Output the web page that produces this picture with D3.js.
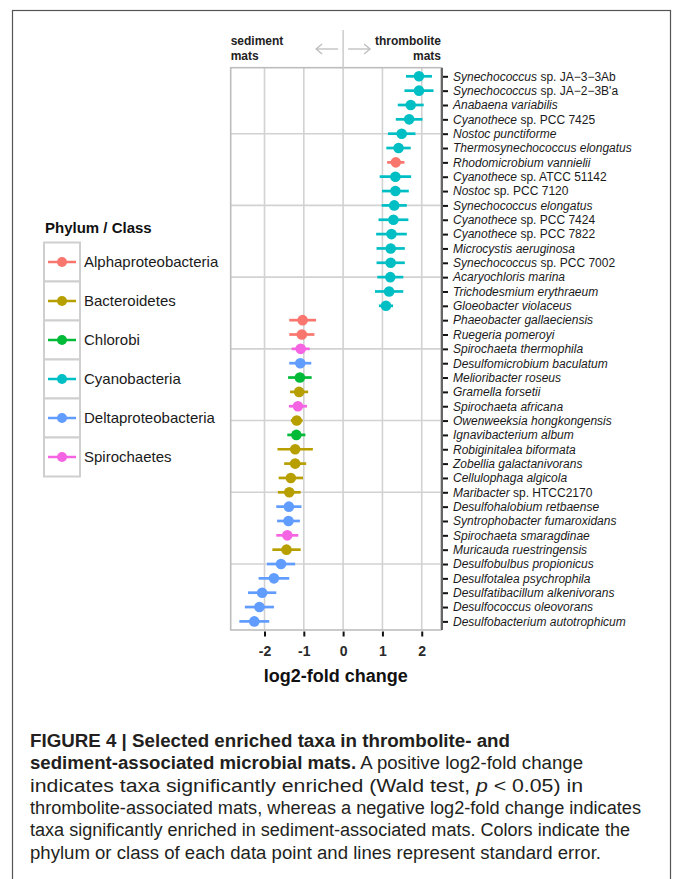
<!DOCTYPE html>
<html>
<head>
<meta charset="utf-8">
<script src="https://cdn.jsdelivr.net/npm/d3@7"></script>
<style>
  html, body { margin: 0; padding: 0; background: #fff; }
  svg { display: block; font-family: "Liberation Sans", Arial, Helvetica, sans-serif; }
</style>
</head>
<body>
<svg id="fig" width="673" height="879"></svg>
<script>
// Taxa from top to bottom: genus (italic) and strain suffix (upright)
const genus = [
  "Synechococcus", "Synechococcus", "Anabaena variabilis", "Cyanothece", "Nostoc punctiforme",
  "Thermosynechococcus elongatus", "Rhodomicrobium vannielii", "Cyanothece", "Nostoc", "Synechococcus elongatus",
  "Cyanothece", "Cyanothece", "Microcystis aeruginosa", "Synechococcus", "Acaryochloris marina",
  "Trichodesmium erythraeum", "Gloeobacter violaceus", "Phaeobacter gallaeciensis", "Ruegeria pomeroyi", "Spirochaeta thermophila",
  "Desulfomicrobium baculatum", "Melioribacter roseus", "Gramella forsetii", "Spirochaeta africana", "Owenweeksia hongkongensis",
  "Ignavibacterium album", "Robiginitalea biformata", "Zobellia galactanivorans", "Cellulophaga algicola", "Maribacter",
  "Desulfohalobium retbaense", "Syntrophobacter fumaroxidans", "Spirochaeta smaragdinae", "Muricauda ruestringensis", "Desulfobulbus propionicus",
  "Desulfotalea psychrophila", "Desulfatibacillum alkenivorans", "Desulfococcus oleovorans", "Desulfobacterium autotrophicum"
];
const strain = [
  " sp. JA\u22123\u22123Ab", " sp. JA\u22122\u22123B'a", "", " sp. PCC 7425", "",
  "", "", " sp. ATCC 51142", " sp. PCC 7120", "",
  " sp. PCC 7424", " sp. PCC 7822", "", " sp. PCC 7002", "",
  "", "", "", "", "",
  "", "", "", "", "",
  "", "", "", "", " sp. HTCC2170",
  "", "", "", "", "",
  "", "", "", ""
];
const phylum = [
  "Cyanobacteria", "Cyanobacteria", "Cyanobacteria", "Cyanobacteria", "Cyanobacteria",
  "Cyanobacteria", "Alphaproteobacteria", "Cyanobacteria", "Cyanobacteria", "Cyanobacteria",
  "Cyanobacteria", "Cyanobacteria", "Cyanobacteria", "Cyanobacteria", "Cyanobacteria",
  "Cyanobacteria", "Cyanobacteria", "Alphaproteobacteria", "Alphaproteobacteria", "Spirochaetes",
  "Deltaproteobacteria", "Chlorobi", "Bacteroidetes", "Spirochaetes", "Bacteroidetes",
  "Chlorobi", "Bacteroidetes", "Bacteroidetes", "Bacteroidetes", "Bacteroidetes",
  "Deltaproteobacteria", "Deltaproteobacteria", "Spirochaetes", "Bacteroidetes", "Deltaproteobacteria",
  "Deltaproteobacteria", "Deltaproteobacteria", "Deltaproteobacteria", "Deltaproteobacteria"
];
// log2-fold change and its standard error
const lfc = [
  1.93, 1.93, 1.72, 1.68, 1.49,
  1.41, 1.34, 1.33, 1.33, 1.30,
  1.28, 1.23, 1.21, 1.21, 1.20,
  1.17, 1.09, -1.03, -1.05, -1.08,
  -1.09, -1.10, -1.12, -1.15, -1.18,
  -1.19, -1.22, -1.22, -1.33, -1.37,
  -1.38, -1.39, -1.42, -1.44, -1.58,
  -1.76, -2.06, -2.13, -2.26
];
const se = [
  0.33, 0.37, 0.33, 0.34, 0.35,
  0.31, 0.22, 0.40, 0.34, 0.32,
  0.38, 0.39, 0.36, 0.36, 0.33,
  0.36, 0.18, 0.34, 0.32, 0.23,
  0.28, 0.30, 0.23, 0.23, 0.15,
  0.23, 0.45, 0.28, 0.31, 0.29,
  0.32, 0.29, 0.28, 0.36, 0.36,
  0.39, 0.36, 0.37, 0.38
];
const groups = ["Alphaproteobacteria", "Bacteroidetes", "Chlorobi", "Cyanobacteria", "Deltaproteobacteria", "Spirochaetes"];
const groupColors = ["#F8766D", "#B79F00", "#00BA38", "#00BFC4", "#619CFF", "#F564E3"];
const xTicks = [-2, -1, 0, 1, 2];
const yGrid = [5, 10, 15, 20, 25, 30, 35];

const rows = genus.map((g, i) => ({
  genus: g, strain: strain[i], phylum: phylum[i], lfc: lfc[i], se: se[i],
  pos: genus.length - i
}));

const svg = d3.select("#fig");
const panel = { left: 230.7, right: 441, top: 67.7, bottom: 630 };

const x = d3.scaleLinear().domain([-2.86, 2.49]).range([panel.left, panel.right]);
const y = d3.scaleLinear().domain([0.4, genus.length + 0.6]).range([panel.bottom, panel.top]);
const color = d3.scaleOrdinal().domain(groups).range(groupColors);

// outer figure frame
svg.append("rect")
  .attr("x", 12.5).attr("y", 10.5).attr("width", 658).attr("height", 900)
  .attr("fill", "none").attr("stroke", "#555").attr("stroke-width", 1.2);

// panel background and grid
svg.append("rect")
  .attr("x", panel.left).attr("y", panel.top)
  .attr("width", panel.right - panel.left).attr("height", panel.bottom - panel.top)
  .attr("fill", "#fff");

svg.append("g").selectAll("line").data(xTicks).join("line")
  .attr("x1", d => x(d)).attr("x2", d => x(d))
  .attr("y1", panel.top).attr("y2", panel.bottom)
  .attr("stroke", "#d2d2d2").attr("stroke-width", 1.6);

svg.append("g").selectAll("line").data(yGrid).join("line")
  .attr("x1", panel.left).attr("x2", panel.right)
  .attr("y1", d => y(d)).attr("y2", d => y(d))
  .attr("stroke", "#d2d2d2").attr("stroke-width", 1.6);

svg.append("rect")
  .attr("x", panel.left).attr("y", panel.top)
  .attr("width", panel.right - panel.left).attr("height", panel.bottom - panel.top)
  .attr("fill", "none").attr("stroke", "#bdbdbd").attr("stroke-width", 1.6);

// direction annotation above the panel
svg.append("line")
  .attr("x1", x(0)).attr("x2", x(0)).attr("y1", 30).attr("y2", panel.top)
  .attr("stroke", "#cfcfcf").attr("stroke-width", 1.6);

const arrowG = svg.append("g").attr("stroke", "#bdbdbd").attr("stroke-width", 1.3).attr("fill", "none");
const ay = 49;
const la = [x(0) - 5, x(0) - 27];
const ra = [x(0) + 5, x(0) + 27];
arrowG.append("line").attr("x1", la[0]).attr("x2", la[1]).attr("y1", ay).attr("y2", ay);
arrowG.append("path").attr("d", `M${la[1] + 6},${ay - 5}L${la[1]},${ay}L${la[1] + 6},${ay + 5}`);
arrowG.append("line").attr("x1", ra[0]).attr("x2", ra[1]).attr("y1", ay).attr("y2", ay);
arrowG.append("path").attr("d", `M${ra[1] - 6},${ay - 5}L${ra[1]},${ay}L${ra[1] - 6},${ay + 5}`);

const topLab = svg.append("g").attr("font-size", 12).attr("font-weight", "bold").attr("fill", "#222");
topLab.append("text").attr("x", panel.left).attr("y", 45).text("sediment");
topLab.append("text").attr("x", panel.left).attr("y", 60).text("mats");
topLab.append("text").attr("x", panel.right).attr("y", 45).attr("text-anchor", "end").text("thrombolite");
topLab.append("text").attr("x", panel.right).attr("y", 60).attr("text-anchor", "end").text("mats");

// error bars and points
const marks = svg.append("g");
marks.selectAll("line").data(rows).join("line")
  .attr("x1", d => x(d.lfc - d.se)).attr("x2", d => x(d.lfc + d.se))
  .attr("y1", d => y(d.pos)).attr("y2", d => y(d.pos))
  .attr("stroke", d => color(d.phylum)).attr("stroke-width", 2.7);
marks.selectAll("circle").data(rows).join("circle")
  .attr("cx", d => x(d.lfc)).attr("cy", d => y(d.pos)).attr("r", 5.3)
  .attr("fill", d => color(d.phylum));

// right-hand taxon axis
svg.append("line")
  .attr("x1", panel.right + 1).attr("x2", panel.right + 1)
  .attr("y1", panel.top).attr("y2", panel.bottom)
  .attr("stroke", "#666").attr("stroke-width", 2);

const yAxis = d3.axisRight(y).tickValues(rows.map(d => d.pos)).tickSize(5).tickFormat("");
const yAxisG = svg.append("g").attr("transform", `translate(${panel.right + 2},0)`).call(yAxis);
yAxisG.select(".domain").remove();
yAxisG.selectAll(".tick line").attr("stroke", "#111").attr("stroke-width", 2);

const taxLab = svg.append("g").attr("font-size", 12).attr("fill", "#1a1a1a");
rows.forEach(d => {
  const t = taxLab.append("text").attr("x", 453).attr("y", y(d.pos)).attr("dy", "0.36em");
  t.append("tspan").attr("font-style", "italic").text(d.genus);
  if (d.strain) t.append("tspan").text(d.strain);
});

// bottom axis
const xAxis = d3.axisBottom(x).tickValues(xTicks).tickSize(5).tickPadding(10).tickFormat(d3.format("d"));
const xAxisG = svg.append("g").attr("transform", `translate(0,${panel.bottom + 1.5})`).call(xAxis);
xAxisG.select(".domain").remove();
xAxisG.selectAll(".tick line").attr("stroke", "#111").attr("stroke-width", 2);
xAxisG.selectAll(".tick text")
  .attr("font-family", "Liberation Sans, Arial, sans-serif")
  .attr("font-size", 14).attr("font-weight", "bold").attr("fill", "#2a2a2a")
  .text(d => d < 0 ? "-" + Math.abs(d) : String(d));

svg.append("text")
  .attr("x", (panel.left + panel.right) / 2).attr("y", 682)
  .attr("text-anchor", "middle").attr("font-size", 18).attr("font-weight", "bold").attr("fill", "#111")
  .text("log2-fold change");

// legend
const lg = svg.append("g").attr("transform", "translate(44,242.5)");
const keyH = 39, keyW = 36;
lg.append("text").attr("x", 1).attr("y", -10).attr("font-size", 15).attr("font-weight", "bold").attr("fill", "#111")
  .text("Phylum / Class");
const item = lg.selectAll("g.item").data(groups).join("g").attr("class", "item")
  .attr("transform", (d, i) => `translate(0,${i * keyH})`);
item.append("rect").attr("width", keyW).attr("height", keyH)
  .attr("fill", "#fff").attr("stroke", "#cfcfcf").attr("stroke-width", 2);
item.append("line").attr("x1", 4).attr("x2", 32).attr("y1", keyH / 2).attr("y2", keyH / 2)
  .attr("stroke", d => color(d)).attr("stroke-width", 2.5);
item.append("circle").attr("cx", 18).attr("cy", keyH / 2).attr("r", 5)
  .attr("fill", d => color(d));
item.append("text").attr("x", 40).attr("y", keyH / 2).attr("dy", "0.36em")
  .attr("font-size", 15).attr("fill", "#1a1a1a").text(d => d);

// caption: each line is fitted to its set width
const cap = svg.append("g").attr("font-size", 18).attr("fill", "#231f20");
const capLines = [
  [["FIGURE 4 | Selected enriched taxa in thrombolite- and", "b"]],
  [["sediment-associated microbial mats.", "b"], [" A positive log2-fold change", ""]],
  [["indicates taxa significantly enriched (Wald test, ", ""], ["p", "i"], [" < 0.05) in", ""]],
  [["thrombolite-associated mats, whereas a negative log2-fold change indicates", ""]],
  [["taxa significantly enriched in sediment-associated mats. Colors indicate the", ""]],
  [["phylum or class of each data point and lines represent standard error.", ""]]
];
const capWidths = [480, 553, 553, 611, 600, 571];
capLines.forEach((parts, i) => {
  const t = cap.append("text").attr("x", 30).attr("y", 747 + i * 22.3)
    .attr("textLength", capWidths[i]).attr("lengthAdjust", "spacingAndGlyphs");
  parts.forEach(([s, f]) => {
    const sp = t.append("tspan").text(s);
    if (f === "b") sp.attr("font-weight", "bold");
    if (f === "i") sp.attr("font-style", "italic");
  });
});
</script>
</body>
</html>
